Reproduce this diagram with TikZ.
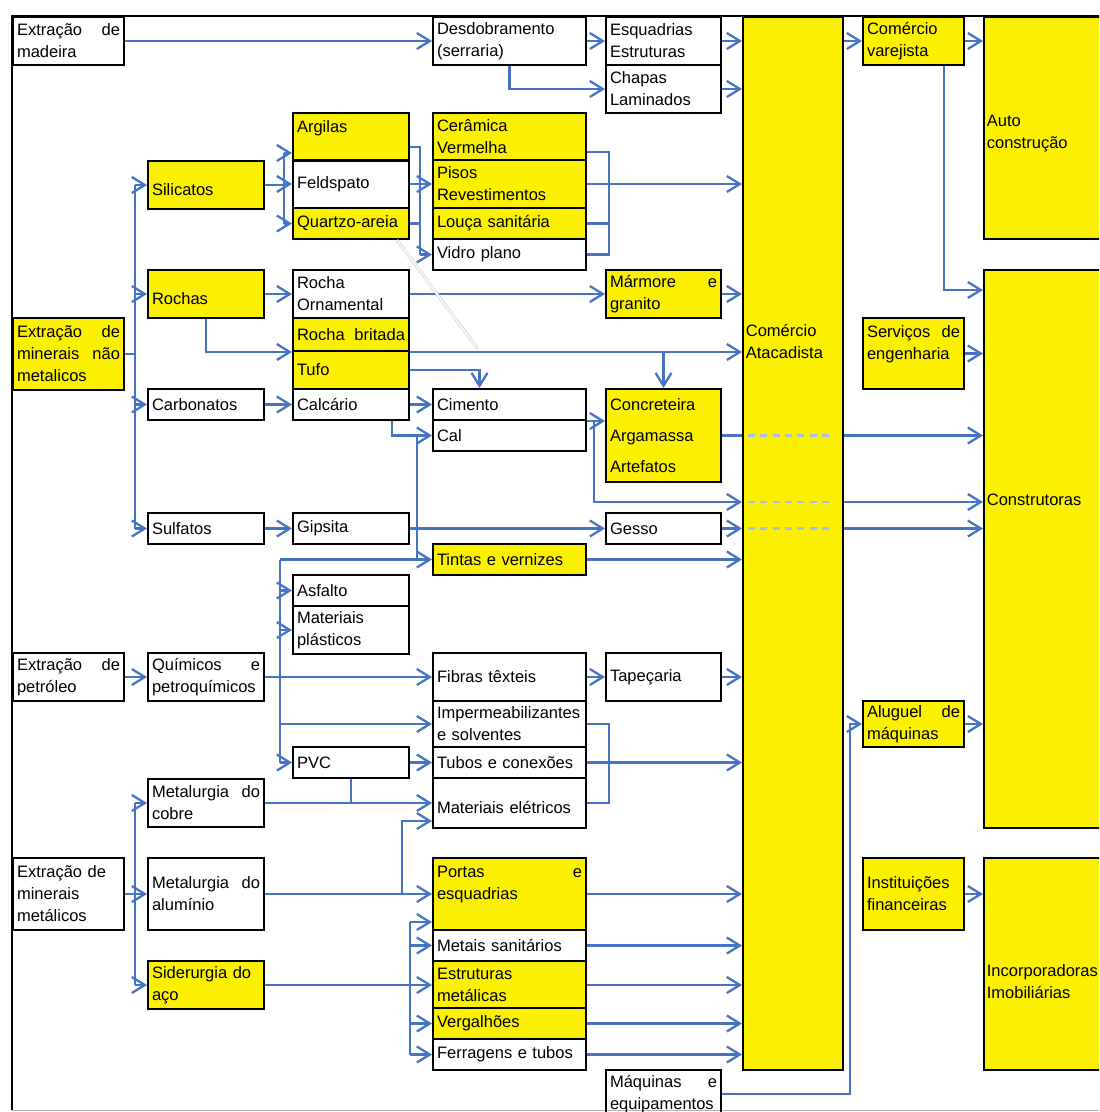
\documentclass[tikz,border=0pt]{standalone}
\usepackage{fontspec}
\setmainfont{Liberation Sans}
\usetikzlibrary{arrows.meta,calc}

\definecolor{ylw}{RGB}{250,240,0}
\definecolor{flow}{RGB}{70,115,196}
\definecolor{pale}{RGB}{165,190,225}
\newcommand{\boxfont}{\fontsize{9.4}{12.5}\selectfont}
\newcommand{\jf}{\hspace{0pt plus 1filll}}

\begin{document}
\begin{tikzpicture}[
    x=0.02cm, y=-0.02cm,
    box/.style={draw, line width=1.15pt, anchor=north west, inner xsep=0.07cm, inner ysep=0pt, align=left, font=\boxfont},
    yel/.style={box, fill=ylw},
    lbl/.style={inner xsep=0.07cm, align=left, font=\boxfont},
    w1/.style={minimum width=2.22cm, text width=2.06cm},
    w2/.style={minimum width=2.32cm, text width=2.16cm},
    w4/.style={minimum width=3.06cm, text width=2.90cm},
    w5/.style={minimum width=2.30cm, text width=2.14cm},
    w7/.style={minimum width=2.02cm, text width=1.86cm},
    h1/.style={minimum height=0.62cm},
    h2/.style={minimum height=0.96cm},
    h3/.style={minimum height=1.44cm},
    ln/.style={draw=flow, line width=1.3pt},
    arr/.style={ln, -{Straight Barb[length=2.6mm, width=3.2mm]}},
    dsh/.style={draw=pale, line width=1.2pt, dash pattern=on 4pt off 3pt, shorten <=0.12cm, shorten >=0.2cm},
    faint/.style={draw=black!22, line width=0.35pt, double=white, double distance=0.9pt}
]
\useasboundingbox (0,0) rectangle (1099,1112);
\clip (0,0) rectangle (1099,1112);

% Frame
\draw[line width=1.2pt] (1110,16) -- (12,16) -- (12,1110);
\draw[black!30] (12,1110) -- (1110,1110);

% Extraction
\node[box, w1, h2] (madeira) at (12,16) {Extração\jf de\\madeira};
\node[yel, w1, h3] (naomet) at (12,317) {Extração\jf de\\minerais\jf não\\metalicos};
\node[box, w1, h2] (petr) at (12,652) {Extração\jf de\\petróleo};
\node[box, w1, h3] (metal) at (12,857) {Extração de\\minerais\\metálicos};

% Raw materials
\node[yel, w2, h2] (silic) at (147,160) {\mbox{}\\Silicatos};
\node[yel, w2, h2] (rochas) at (147,269) {\mbox{}\\Rochas};
\node[box, w2, h1] (carb) at (147,388) {Carbonatos};
\node[box, w2, h1] (sulf) at (147,512) {Sulfatos};
\node[box, w2, h2] (quim) at (147,652) {Químicos\jf e\\petroquímicos};
\node[box, w2, h2] (cobre) at (147,778) {Metalurgia\jf do\\cobre};
\node[box, w2, h3] (alum) at (147,857) {Metalurgia\jf do\\alumínio};
\node[yel, w2, h2] (sider) at (147,960) {Siderurgia do\\aço};

% Minerals
\node[yel, w2, h2] (argil) at (292,112) {Argilas\\\mbox{}};
\node[box, w2, h2] (feld) at (292,159) {Feldspato};
\node[yel, w2, h1] (quartz) at (292,207) {Quartzo-areia};
\node[box, w2, h2] (orn) at (292,269) {Rocha\\Ornamental};
\node[yel, w2, minimum height=0.66cm] (brit) at (292,317) {Rocha\jf britada};
\node[yel, w2, minimum height=0.76cm] (tufo) at (292,350) {Tufo};
\node[box, w2, h1] (calc) at (292,388) {Calcário};
\node[box, w2, h1] (gips) at (292,512) {Gipsita};
\node[box, w2, h1] (asf) at (292,574) {Asfalto};
\node[box, w2, h2] (plast) at (292,605) {Materiais\\plásticos};
\node[box, w2, h1] (pvc) at (292,746) {PVC};

% Products
\node[box, w4, h2] (desd) at (432,16) {Desdobramento\\(serraria)};
\node[yel, w4, h2] (ceram) at (432,112) {Cerâmica\\Vermelha};
\node[yel, w4, h2] (pisos) at (432,159) {Pisos\\Revestimentos};
\node[yel, w4, h1] (louca) at (432,207) {Louça sanitária};
\node[box, w4, h1] (vidro) at (432,238) {Vidro plano};
\node[box, w4, h1] (cim) at (432,388) {Cimento};
\node[box, w4, h1] (cal) at (432,419) {Cal};
\node[yel, w4, h1] (tint) at (432,543) {Tintas e vernizes};
\node[box, w4, h2] (fibr) at (432,652) {Fibras têxteis};
\node[box, w4, minimum height=0.92cm] (imperm) at (432,700) {Impermeabilizantes\\e solventes};
\node[box, w4, h1] (tubos) at (432,746) {Tubos e conexões};
\node[box, w4, minimum height=1.0cm] (mat) at (432,777) {\mbox{}\\Materiais elétricos};
\node[yel, w4, h3] (portas) at (432,857) {Portas\jf e\\esquadrias\\\mbox{}};
\node[box, w4, h1] (metais) at (432,929) {Metais sanitários};
\node[yel, w4, h2] (estr) at (432,960) {Estruturas\\metálicas};
\node[yel, w4, h1] (verg) at (432,1007) {Vergalhões};
\node[box, w4, h1] (ferr) at (432,1038) {Ferragens e tubos};

% Second products
\node[box, w5, h2] (esq) at (605,16) {Esquadrias\\Estruturas};
\node[box, w5, h2] (chap) at (605,64) {Chapas\\Laminados};
\node[yel, w5, h2] (marm) at (605,269) {Mármore\jf e\\granito};
\node[yel, w5, minimum height=1.86cm] (concr) at (605,388) {Concreteira\\[5pt]Argamassa\\[5pt]Artefatos};
\node[box, w5, h1] (gesso) at (605,512) {Gesso};
\node[box, w5, h2] (tap) at (605,652) {Tapeçaria};
\node[box, w5, h2] (maq) at (605,1069) {Máquinas\jf e\\equipamentos};

% Trade and services
\node[yel, minimum width=2.0cm, minimum height=21.06cm] (atac) at (742,16) {};
\node[lbl, anchor=west] (atac-t) at ([yshift=4.03cm]atac.west) {Comércio\\Atacadista};
\node[yel, w7, h2] (varej) at (862,16) {Comércio\\varejista};
\node[yel, w7, minimum height=1.42cm] (serv) at (862,317) {Serviços\jf de\\engenharia\\\mbox{}};
\node[yel, w7, minimum height=0.92cm] (alug) at (862,700) {Aluguel\jf de\\máquinas};
\node[yel, w7, h3] (inst) at (862,857) {Instituições\\financeiras};

% Final demand
\node[yel, minimum width=2.54cm, minimum height=4.44cm] (auto) at (983,16) {};
\node[lbl, anchor=west] (auto-t) at ([yshift=-0.12cm]auto.west) {Auto\\construção};
\node[yel, minimum width=2.54cm, minimum height=11.16cm] (constr) at (983,269) {};
\node[lbl, anchor=west] (constr-t) at ([yshift=0.98cm]constr.west) {Construtoras};
\node[yel, minimum width=2.54cm, minimum height=4.24cm] (incorp) at (983,857) {};
\node[lbl, anchor=west] (incorp-t) at ([yshift=-0.36cm]incorp.west) {Incorporadoras\\Imobiliárias};

% Wood
\draw[arr] (madeira) -- (desd);
\draw[arr] (desd) -- (esq);
\draw[arr] (desd.south) |- (chap.west);
\draw[arr] (esq.east) -- (esq.east -| atac.west);
\draw[arr] (chap.east) -- (chap.east -| atac.west);

% Non-metallic minerals
\coordinate (b1) at ([xshift=0.2cm]naomet.east);
\draw[ln] (naomet.east) -- (b1);
\draw[ln] (b1 |- silic.west) -- (b1 |- sulf.west);
\foreach \n in {silic, rochas, carb, sulf} \draw[arr] (b1 |- \n.west) -- (\n.west);

\coordinate (b2) at ([xshift=0.38cm]silic.east);
\coordinate (argin) at ([yshift=0.18cm]argil.south west);
\draw[ln] (silic.east) -- (b2);
\draw[ln] (b2 |- argin) -- (b2 |- quartz.west);
\draw[arr] (b2 |- argin) -- (argin);
\draw[arr] (b2 |- feld.west) -- (feld.west);
\draw[arr] (b2 |- quartz.west) -- (quartz.west);

\coordinate (argout) at ([yshift=-0.2cm]argil.east);
\coordinate (b3) at ([xshift=0.2cm]argout);
\draw[ln] (argout) -- (b3) -- (b3 |- vidro.west);
\draw[ln] (feld.east) -- (b3 |- feld.east);
\draw[ln] (quartz.east) -- (b3 |- quartz.east);
\draw[arr] (b3 |- pisos.west) -- (pisos.west);
\draw[arr] (b3 |- vidro.west) -- (vidro.west);

\coordinate (cerout) at ([yshift=-0.3cm]ceram.east);
\coordinate (b4) at ([xshift=0.44cm]cerout);
\draw[ln] (cerout) -- (b4) -- (b4 |- vidro.east) -- (vidro.east);
\draw[ln] (louca.east) -- (b4 |- louca.east);
\draw[arr] (pisos.east) -- (pisos.east -| atac.west);

% Rocks
\draw[arr] (rochas) -- (orn);
\draw[arr] (orn) -- (marm);
\draw[arr] (marm.east) -- (marm.east -| atac.west);
\draw[arr] (rochas.south) |- (brit.south west);
\draw[arr] (brit.south east) -- (brit.south east -| atac.west);
\draw[arr] (concr.north |- brit.south east) -- (concr.north);
\coordinate (cimin) at ([xshift=-0.6cm]cim.north);
\draw[arr] (tufo.east) -| (cimin);
\draw[faint] ([xshift=-0.26cm]quartz.south east) -- ++(81,109);

% Carbonates
\draw[arr] (carb) -- (calc);
\draw[arr] (calc) -- (cim);
\draw[arr] ([xshift=-0.36cm]calc.south east) |- (cal.west);
\coordinate (b5) at ([xshift=0.14cm]calc.east);
\draw[ln] (b5 |- cal.west) -- (b5 |- tint.west);
\draw[arr] (cim.south east) -- (cim.south east -| concr.west);
\coordinate (b8) at ([xshift=0.14cm]cim.south east);
\coordinate (cs) at ([yshift=-0.38cm]concr.south);
\coordinate (r2) at (cs -| atac.west);
\draw[arr] (b8) |- (r2);

% Sulfates
\draw[arr] (sulf) -- (gips);
\draw[arr] (gips) -- (gesso);
\draw[arr] (gesso.east) -- (gesso.east -| atac.west);

% Rows across the wholesale box
\coordinate (r1) at (concr.east -| atac.west);
\coordinate (r3) at (gesso.east -| atac.west);
\draw[ln] (concr.east) -- (r1);
\foreach \r in {r1, r2, r3} {
  \draw[dsh] (\r) -- (\r -| atac.east);
  \draw[arr] (\r -| atac.east) -- (\r -| constr.west);
}

% Petroleum
\draw[arr] (petr) -- (quim);
\draw[arr] (quim) -- (fibr);
\draw[arr] (fibr) -- (tap);
\draw[arr] (tap.east) -- (tap.east -| atac.west);
\coordinate (b6) at ([xshift=-0.24cm]asf.west);
\draw[ln] (b6 |- tint.west) -- (b6 |- pvc.west);
\draw[arr] (b6 |- tint.west) -- (tint.west);
\foreach \n in {asf, plast, imperm, pvc} \draw[arr] (b6 |- \n.west) -- (\n.west);
\draw[arr] (tint.east) -- (tint.east -| atac.west);
\draw[arr] (pvc) -- (tubos);
\draw[ln] (pvc.south) -- (pvc.south |- cobre.east);
\coordinate (b7) at ([xshift=0.44cm]imperm.east);
\draw[ln] (imperm.east) -- (b7) -- (b7 |- mat.east) -- (mat.east);
\draw[arr] (tubos.east) -- (tubos.east -| atac.west);

% Metallic minerals
\draw[arr] (metal) -- (alum);
\coordinate (b9) at ([xshift=0.2cm]metal.east);
\draw[ln] (b9 |- cobre.west) -- (b9 |- sider.west);
\draw[arr] (b9 |- cobre.west) -- (cobre.west);
\draw[arr] (b9 |- sider.west) -- (sider.west);
\draw[arr] (cobre.east) -- (cobre.east -| mat.west);
\draw[arr] (alum) -- (portas);
\coordinate (matin) at ([yshift=-0.36cm]mat.west);
\draw[arr] ([xshift=-0.6cm]portas.west) |- (matin);
\draw[arr] (sider) -- (estr);
\coordinate (b10) at ([xshift=-0.44cm]estr.west);
\coordinate (portin) at ([yshift=0.18cm]portas.south west);
\draw[ln] (b10 |- portin) -- (b10 |- ferr.west);
\draw[arr] (b10 |- portin) -- (portin);
\foreach \n in {metais, verg, ferr} \draw[arr] (b10 |- \n.west) -- (\n.west);
\foreach \n in {portas, metais, estr, verg, ferr} \draw[arr] (\n.east) -- (\n.east -| atac.west);

% Machines
\draw[arr] (maq.east) -| ([xshift=-0.24cm]alug.west) -- (alug.west);

% Trade to final demand
\draw[arr] (atac.east |- varej.west) -- (varej.west);
\draw[arr] (varej.east) -- (varej.east -| auto.west);
\draw[arr] ([xshift=-0.42cm]varej.south east) |- ([yshift=-0.42cm]constr.north west);
\draw[arr] (serv.east) -- (serv.east -| constr.west);
\draw[arr] (alug.east) -- (alug.east -| constr.west);
\draw[arr] (inst.east) -- (inst.east -| incorp.west);

\end{tikzpicture}
\end{document}
